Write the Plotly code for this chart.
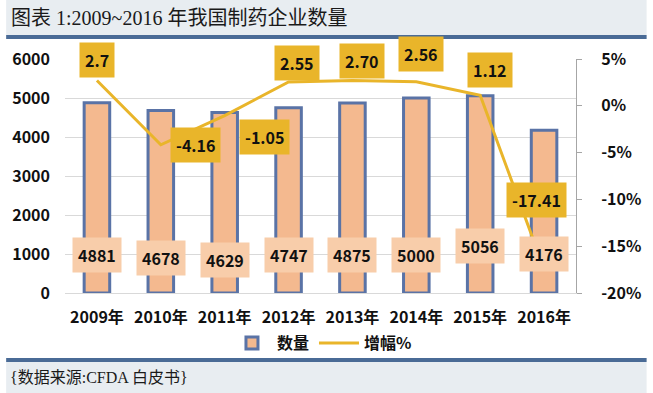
import plotly.graph_objects as go

years = ["2009年", "2010年", "2011年", "2012年", "2013年", "2014年", "2015年", "2016年"]
counts = [4881, 4678, 4629, 4747, 4875, 5000, 5056, 4176]
growth = [2.7, -4.16, -1.05, 2.55, 2.70, 2.56, 1.12, -17.41]
growth_labels = ["2.7", "-4.16", "-1.05", "2.55", "2.70", "2.56", "1.12", "-17.41"]
pct_ticks = [5, 0, -5, -10, -15, -20]
pct_tick_text = ["5%", "0%", "-5%", "-10%", "-15%", "-20%"]

# label offsets (pixels) – style only
g_xshift = [0, 35, 40, 8, 10, 5, 10, -8]
g_yshift = [21, 0, -21, 19, 20, 28, 25, 69]
c_yshift = [38, 35, 33, 38, 38, 38, 47, 39]

W, H = 653, 393
L, R, T, B = 60, 72, 59, 100
PH = H - T - B
PW = W - L - R

def py(p):
    return (H - B - p) / PH

def px(p):
    return (p - L) / PW

BAR_FILL = "#f4b98f"
BAR_LINE = "#5a73a6"
GOLD = "#e9b52a"
LABEL_BG = "#f8cdaa"
CJK = "Noto Sans CJK SC"

fig = go.Figure()
fig.add_trace(go.Bar(
    x=years, y=counts, name="数量", width=0.4,
    marker=dict(color=BAR_FILL, line=dict(color=BAR_LINE, width=3)),
    yaxis="y",
))
fig.add_trace(go.Scatter(
    x=years, y=growth, name="增幅%", mode="lines",
    line=dict(color=GOLD, width=3), yaxis="y2",
))

annotations = []
for i, (yr, v) in enumerate(zip(years, counts)):
    annotations.append(dict(
        x=yr, y=0, xref="x", yref="y", text=f"<b>{v}</b>", showarrow=False,
        yshift=c_yshift[i], bgcolor=LABEL_BG, borderpad=5,
        font=dict(family=CJK, size=16, color="#111"),
    ))
for i, (yr, v) in enumerate(zip(years, growth)):
    annotations.append(dict(
        x=yr, y=v, xref="x", yref="y2", text=f"<b>{growth_labels[i]}</b>", showarrow=False,
        xshift=g_xshift[i], yshift=g_yshift[i], bgcolor=GOLD, borderpad=5,
        font=dict(family=CJK, size=16, color="#111"),
    ))
# title and source
annotations.append(dict(
    x=px(3), y=py(18), xref="paper", yref="paper", xanchor="left", yanchor="middle",
    text="图表 1:2009~2016 年我国制药企业数量", showarrow=False,
    font=dict(family="Liberation Serif, " + CJK, size=20, color="#1a1a1a"),
))
annotations.append(dict(
    x=px(2), y=py(377), xref="paper", yref="paper", xanchor="left", yanchor="middle",
    text="{数据来源:CFDA 白皮书}", showarrow=False,
    font=dict(family="Liberation Serif, " + CJK, size=16, color="#1a1a1a"),
))

shapes = [
    dict(type="rect", xref="paper", yref="paper", x0=px(0), x1=px(W), y0=py(35), y1=py(0),
         fillcolor="#e8edf1", line=dict(width=0), layer="below"),
    dict(type="rect", xref="paper", yref="paper", x0=px(0), x1=px(W), y0=py(39), y1=py(35),
         fillcolor="#4a6b96", line=dict(width=0), layer="below"),
    dict(type="rect", xref="paper", yref="paper", x0=px(0), x1=px(W), y0=py(362), y1=py(358),
         fillcolor="#4a6b96", line=dict(width=0), layer="below"),
    dict(type="rect", xref="paper", yref="paper", x0=px(0), x1=px(W), y0=py(H), y1=py(362),
         fillcolor="#e8edf1", line=dict(width=0), layer="below"),
]

fig.update_layout(
    width=W, height=H,
    margin=dict(l=L, r=R, t=T, b=B),
    paper_bgcolor="white", plot_bgcolor="white",
    font=dict(family=CJK, size=16, color="#111"),
    bargap=0.6,
    xaxis=dict(showgrid=False, showline=True, linecolor="#d9d9d9", linewidth=1,
               tickfont=dict(family=CJK, size=16, color="#111", weight="bold"),
               ticklabelstandoff=10),
    yaxis=dict(range=[0, 6000], dtick=1000, showgrid=True, gridcolor="#d9d9d9",
               zeroline=False, showline=False,
               tickfont=dict(family=CJK, size=16, color="#111", weight="bold"),
               ticklabelstandoff=14),
    yaxis2=dict(range=[-20, 5], tickmode="array", tickvals=pct_ticks, ticktext=pct_tick_text,
                overlaying="y", side="right", showgrid=False,
                zeroline=False, showline=True, linecolor="#a6a6a6", linewidth=1,
                ticks="outside", ticklen=5, tickcolor="#a6a6a6",
                tickfont=dict(family=CJK, size=16, color="#111", weight="bold"),
                ticklabelstandoff=16),
    legend=dict(orientation="h", x=px(322), y=py(343), xanchor="center", yanchor="middle",
                font=dict(family=CJK, size=16, color="#111", weight="bold"),
                bgcolor="rgba(0,0,0,0)", itemwidth=40),
    annotations=annotations,
    shapes=shapes,
    showlegend=True,
)

fig.write_html("out.html", config={"displayModeBar": False},
               post_script="document.body.style.margin='0';document.body.style.overflow='hidden';")
